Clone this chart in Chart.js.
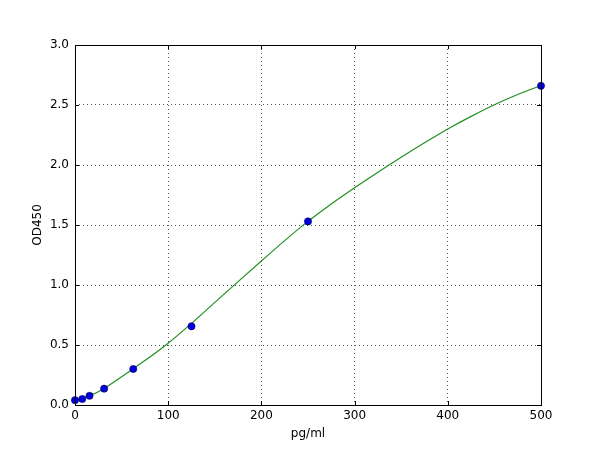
<!DOCTYPE html>
<html>
<head>
<meta charset="utf-8">
<script src="https://cdn.jsdelivr.net/npm/chart.js@4/dist/chart.umd.min.js"></script>
<style>
  html, body { margin: 0; padding: 0; background: #fff; }
  #wrap { width: 600px; height: 450px; }
</style>
</head>
<body>
<div id="wrap"><canvas id="myChart" width="600" height="450"></canvas></div>
<script>
// standard points (pg/ml vs OD450)
const concs = [0, 7.8, 15.6, 31.25, 62.5, 125, 250, 500];
const ods = [0.04, 0.05, 0.077, 0.136, 0.30, 0.656, 1.53, 2.66];

// fitted curve, every 25 pg/ml
const fitX = [0, 25, 50, 75, 100, 125, 150, 175, 200, 225, 250, 275, 300, 325, 350, 375, 400, 425, 450, 475, 500];
const fitY = [0.035, 0.11, 0.235, 0.37, 0.515, 0.68, 0.855, 1.028, 1.20, 1.37, 1.53, 1.675, 1.81, 1.94, 2.065, 2.185, 2.30, 2.405, 2.502, 2.587, 2.662];

const xTicks = [0, 100, 200, 300, 400, 500];
const yTicks = [0, 0.5, 1.0, 1.5, 2.0, 2.5, 3.0];

const ctx = document.getElementById('myChart').getContext('2d');
Chart.defaults.font.family = 'DejaVu Sans';
Chart.defaults.font.size = 12;
Chart.defaults.color = '#000';

// inward ticks on all four sides + frame, like matplotlib
const frame = {
    id: 'frame',
    afterDatasetsDraw(chart) {
        const c = chart.ctx, a = chart.chartArea;
        const xs = chart.scales.x, ys = chart.scales.y;
        c.save();
        c.strokeStyle = '#000';
        c.lineWidth = 1;
        c.beginPath();
        xTicks.forEach(v => {
            const px = Math.round(xs.getPixelForValue(v)) + 0.5;
            c.moveTo(px, a.bottom); c.lineTo(px, a.bottom - 4);
            c.moveTo(px, a.top); c.lineTo(px, a.top + 4);
        });
        yTicks.forEach(v => {
            const py = Math.round(ys.getPixelForValue(v)) + 0.5;
            c.moveTo(a.left, py); c.lineTo(a.left + 4, py);
            c.moveTo(a.right, py); c.lineTo(a.right - 4, py);
        });
        c.stroke();
        c.strokeRect(a.left + 0.5, a.top + 0.5, a.right - a.left, a.bottom - a.top);
        c.restore();
    }
};

new Chart(ctx, {
    type: 'scatter',
    data: {
        datasets: [{
            label: 'fit',
            data: fitX.map((x, i) => ({ x: x, y: fitY[i] })),
            showLine: true,
            cubicInterpolationMode: 'monotone',
            borderColor: '#1f8f1f',
            borderWidth: 1.2,
            pointRadius: 0,
            order: 2
        }, {
            label: 'standards',
            data: concs.map((x, i) => ({ x: x, y: ods[i] })),
            backgroundColor: '#0000e0',
            borderColor: '#000050',
            borderWidth: 0.6,
            pointRadius: 3.6,
            order: 1
        }]
    },
    options: {
        responsive: false,
        animation: false,
        clip: false,
        layout: { padding: { left: 0, right: 59, top: 45, bottom: 0 } },
        plugins: {
            legend: { display: false },
            tooltip: { enabled: false }
        },
        scales: {
            x: {
                type: 'linear',
                min: 0, max: 500,
                afterBuildTicks: s => { s.ticks = xTicks.map(v => ({ value: v })); },
                afterFit: s => { s.height = 45; },
                ticks: { padding: 4, callback: v => v },
                grid: { color: '#555', lineWidth: 1, drawTicks: false },
                border: { display: false, dash: [1, 3] },
                title: { display: true, text: 'pg/ml', padding: { top: 0, bottom: 9 } }
            },
            y: {
                type: 'linear',
                min: 0, max: 3,
                afterBuildTicks: s => { s.ticks = yTicks.map(v => ({ value: v })); },
                afterFit: s => { s.width = 75; },
                ticks: { padding: 6, callback: v => v.toFixed(1) },
                grid: { color: '#555', lineWidth: 1, drawTicks: false },
                border: { display: false, dash: [1, 3] },
                title: { display: true, text: 'OD450', padding: { top: 31, bottom: 0 } }
            }
        }
    },
    plugins: [frame]
});
</script>
</body>
</html>
